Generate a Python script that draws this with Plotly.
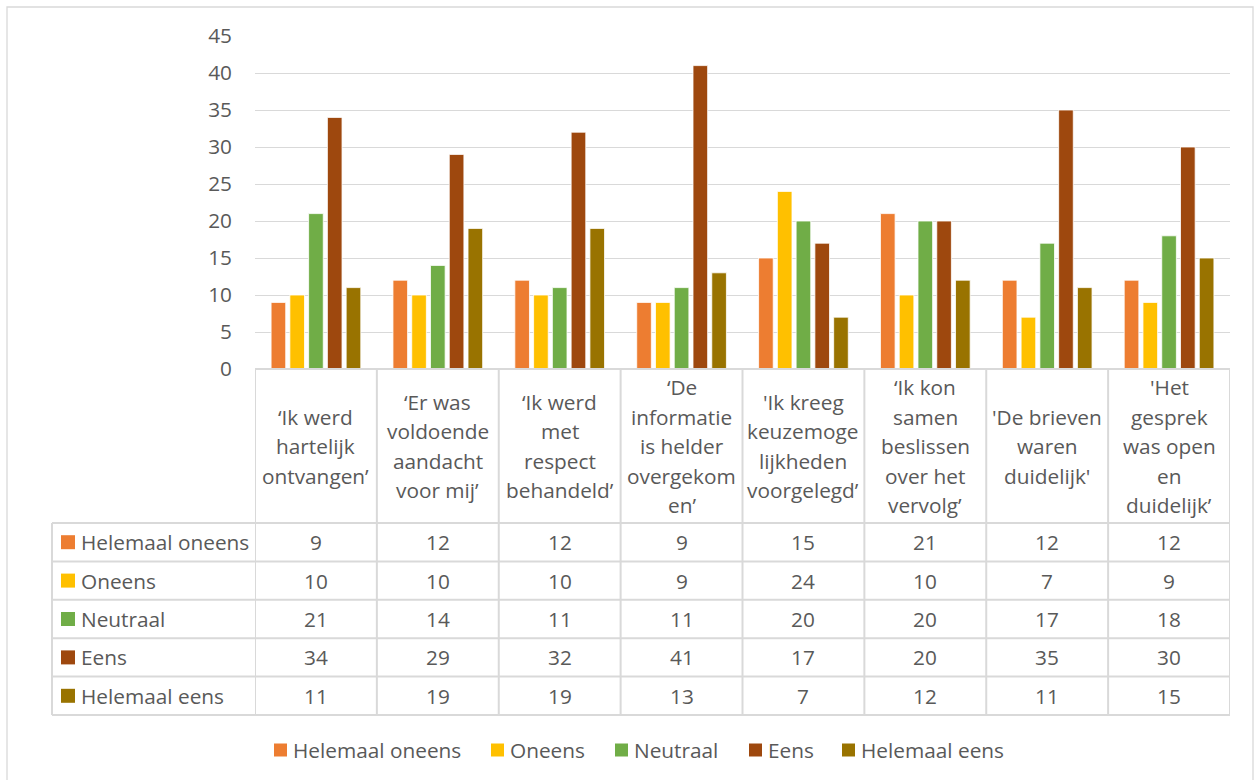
import plotly.graph_objects as go

# ---------------- data ----------------
categories = [
    "‘Ik werd\nhartelijk\nontvangen’",
    "‘Er was\nvoldoende\naandacht\nvoor mij’",
    "‘Ik werd\nmet\nrespect\nbehandeld’",
    "‘De\ninformatie\nis helder\novergekom\nen’",
    "'Ik kreeg\nkeuzemoge\nlijkheden\nvoorgelegd’",
    "‘Ik kon\nsamen\nbeslissen\nover het\nvervolg’",
    "'De brieven\nwaren\nduidelijk'",
    "'Het\ngesprek\nwas open\nen\nduidelijk’",
]
series_names = ["Helemaal oneens", "Oneens", "Neutraal", "Eens", "Helemaal eens"]
helemaal_oneens = [9, 12, 12, 9, 15, 21, 12, 12]
oneens = [10, 10, 10, 9, 24, 10, 7, 9]
neutraal = [21, 14, 11, 11, 20, 20, 17, 18]
eens = [34, 29, 32, 41, 17, 20, 35, 30]
helemaal_eens = [11, 19, 19, 13, 7, 12, 11, 15]
series_values = [helemaal_oneens, oneens, neutraal, eens, helemaal_eens]
y_ticks = [0, 5, 10, 15, 20, 25, 30, 35, 40, 45]

# ---------------- style ----------------
colors = ["#ED7D31", "#FFC000", "#70AD47", "#9E480E", "#997300"]
FONT = "Open Sans"
TXT = "#595959"
GRID = "#D9D9D9"
FS = 20.8
W, H = 1260, 780


def px_x(x):
    return x / W


def px_y(y):
    return 1 - y / H


plot_left, plot_right = 255, 1230
plot_top, plot_bottom = 36, 369
table_left = 52
header_bottom = 523
row_h = 38.4
line_gap = 29.5

xs = list(range(len(categories)))

fig = go.Figure()
for name, vals, col in zip(series_names, series_values, colors):
    fig.add_trace(go.Bar(
        x=xs, y=vals, name=name, marker_color=col,
        marker_line=dict(color="white", width=0.8), showlegend=False,
    ))

shapes = []
annotations = []

# outer chart border
shapes.append(dict(type="rect", xref="paper", yref="paper",
                   x0=px_x(7), x1=px_x(1253), y0=px_y(7), y1=px_y(790),
                   line=dict(color=GRID, width=1.3), fillcolor="rgba(0,0,0,0)", layer="below"))

n = len(categories)
row_bounds = [header_bottom + i * row_h for i in range(len(series_names) + 1)]
table_bottom = row_bounds[-1]
lc = dict(color=GRID, width=2)

# horizontal table lines
shapes.append(dict(type="line", xref="x", yref="paper", x0=-0.5, x1=n - 0.5,
                   y0=px_y(plot_bottom), y1=px_y(plot_bottom), line=lc))
for yb in row_bounds:
    shapes.append(dict(type="line", xref="paper", yref="paper",
                       x0=px_x(table_left), x1=px_x(plot_right),
                       y0=px_y(yb), y1=px_y(yb), line=lc))
# vertical table lines
for i in range(n + 1):
    shapes.append(dict(type="line", xref="x", yref="paper", x0=i - 0.5, x1=i - 0.5,
                       y0=px_y(plot_bottom), y1=px_y(table_bottom), line=lc))
shapes.append(dict(type="line", xref="paper", yref="paper",
                   x0=px_x(table_left), x1=px_x(table_left),
                   y0=px_y(header_bottom), y1=px_y(table_bottom), line=lc))

# header category labels (line by line)
header_center = (plot_bottom + header_bottom) / 2
for i, cat in enumerate(categories):
    lines = cat.split("\n")
    k = len(lines)
    for j, ln in enumerate(lines):
        yc = header_center + (j - (k - 1) / 2) * line_gap
        annotations.append(dict(x=i, y=px_y(yc), xref="x", yref="paper", text=ln,
                                showarrow=False, xanchor="center", yanchor="middle",
                                font=dict(family=FONT, size=FS, color=TXT)))

# data rows
for r, (name, vals, col) in enumerate(zip(series_names, series_values, colors)):
    yc = (row_bounds[r] + row_bounds[r + 1]) / 2
    shapes.append(dict(type="rect", xref="paper", yref="paper",
                       x0=px_x(61), x1=px_x(75), y0=px_y(yc - 7), y1=px_y(yc + 7),
                       fillcolor=col, line=dict(width=0)))
    annotations.append(dict(x=px_x(79), y=px_y(yc), xref="paper", yref="paper", text=name,
                            showarrow=False, xanchor="left", yanchor="middle",
                            font=dict(family=FONT, size=FS, color=TXT)))
    for i, v in enumerate(vals):
        annotations.append(dict(x=i, y=px_y(yc), xref="x", yref="paper", text=str(v),
                                showarrow=False, xanchor="center", yanchor="middle",
                                font=dict(family=FONT, size=FS, color=TXT)))

# bottom legend
legend_x = [274, 491, 615, 749, 842]
legend_y = 750
for name, col, lx in zip(series_names, colors, legend_x):
    shapes.append(dict(type="rect", xref="paper", yref="paper",
                       x0=px_x(lx), x1=px_x(lx + 13), y0=px_y(legend_y - 6.5), y1=px_y(legend_y + 6.5),
                       fillcolor=col, line=dict(width=0)))
    annotations.append(dict(x=px_x(lx + 17), y=px_y(legend_y), xref="paper", yref="paper", text=name,
                            showarrow=False, xanchor="left", yanchor="middle",
                            font=dict(family=FONT, size=FS, color=TXT)))

fig.update_layout(
    width=W, height=H, autosize=False,
    margin=dict(l=0, r=0, t=0, b=0, pad=0, autoexpand=False),
    paper_bgcolor="white", plot_bgcolor="white",
    barmode="group", bargap=0.23, bargroupgap=0.22,
    showlegend=False,
    font=dict(family=FONT, size=FS, color=TXT),
    xaxis=dict(domain=[px_x(plot_left), px_x(plot_right)], range=[-0.5, n - 0.5],
               showticklabels=False, showgrid=False, zeroline=False, showline=False, ticks="",
               automargin=False),
    yaxis=dict(domain=[px_y(plot_bottom), px_y(plot_top)], range=[0, 45],
               tickvals=y_ticks, showgrid=True, gridcolor=GRID, gridwidth=1.3,
               zeroline=False, showline=False, ticks="", ticklabelstandoff=22,
               automargin=False,
               tickfont=dict(family=FONT, size=FS, color=TXT)),
    shapes=shapes, annotations=annotations,
)

fig.write_html("out.html")
